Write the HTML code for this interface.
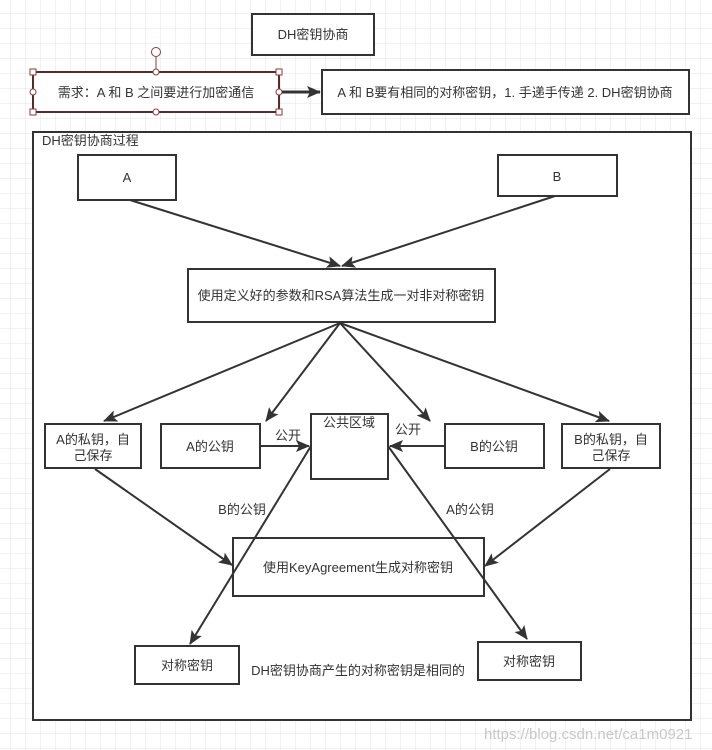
<!DOCTYPE html>
<html><head><meta charset="utf-8"><style>
html,body{margin:0;padding:0;background:#fff;}
svg{display:block;}
text{font-family:"Liberation Sans","Noto Sans CJK SC",sans-serif;font-size:13px;fill:#333;}
</style></head><body>
<svg width="712" height="750" viewBox="0 0 712 750" xmlns="http://www.w3.org/2000/svg">
<defs>
<pattern id="g" x="10" y="13" width="15" height="15" patternUnits="userSpaceOnUse">
<path d="M0 0H15M0 0V15" stroke="#e3e3e3" stroke-width="1" fill="none"/>
</pattern>
<marker id="ar" markerWidth="14" markerHeight="12" refX="13" refY="6" orient="auto" markerUnits="userSpaceOnUse">
<path d="M0,0 L14,6 L0,12 L3,6 Z" fill="#333"/>
</marker>
</defs>
<rect width="712" height="750" fill="url(#g)"/>
<g fill="#fff" stroke="#333" stroke-width="2">
<rect x="252" y="14" width="122" height="41"/>
<rect x="33" y="72" width="246" height="40" stroke="#5a2a2a"/>
<rect x="322" y="70" width="367" height="44"/>
<rect x="33" y="132" width="658" height="588"/>
<rect x="78" y="155" width="98" height="45"/>
<rect x="498" y="155" width="119" height="41"/>
<rect x="188" y="269" width="307" height="53"/>
<rect x="45" y="424" width="96" height="44"/>
<rect x="161" y="424" width="99" height="44"/>
<rect x="311" y="414" width="77" height="65"/>
<rect x="445" y="424" width="99" height="44"/>
<rect x="562" y="424" width="98" height="44"/>
<rect x="233" y="538" width="251" height="58"/>
<rect x="135" y="646" width="104" height="38"/>
<rect x="478" y="642" width="103" height="38"/>
</g>
<g fill="#fff" stroke="#8b3a3a" stroke-width="1">
<line x1="156" y1="57" x2="156" y2="72"/>
<circle cx="156" cy="52" r="4.5"/>
<rect x="30" y="69" width="6" height="6"/><rect x="276" y="69" width="6" height="6"/>
<rect x="30" y="109" width="6" height="6"/><rect x="276" y="109" width="6" height="6"/>
<circle cx="156" cy="72" r="3"/><circle cx="156" cy="112" r="3"/>
<circle cx="33" cy="92" r="3"/><circle cx="279" cy="92" r="3"/>
</g>
<g stroke="#333" stroke-width="2" fill="none" marker-end="url(#ar)">
<line x1="282" y1="92" x2="320" y2="92" stroke-width="3"/>
<line x1="130" y1="200" x2="340" y2="266"/>
<line x1="555" y1="196" x2="342" y2="266"/>
<line x1="340" y1="323" x2="104" y2="421"/>
<line x1="340" y1="323" x2="266" y2="421"/>
<line x1="340" y1="323" x2="430" y2="421"/>
<line x1="340" y1="323" x2="609" y2="421"/>
<line x1="260" y1="446" x2="309" y2="446"/>
<line x1="445" y1="446" x2="390" y2="446"/>
<line x1="311" y1="446" x2="190" y2="644"/>
<line x1="388" y1="446" x2="527" y2="639"/>
<line x1="95" y1="469" x2="232" y2="565"/>
<line x1="610" y1="469" x2="485" y2="566"/>
</g>
<g text-anchor="middle">
<text x="313" y="39">DH密钥协商</text>
<text x="156" y="97">需求：A 和 B 之间要进行加密通信</text>
<text x="505" y="97">A 和 B要有相同的对称密钥，1. 手递手传递 2. DH密钥协商</text>
<text x="127" y="182">A</text>
<text x="557" y="181">B</text>
<text x="341" y="300">使用定义好的参数和RSA算法生成一对非对称密钥</text>
<text x="93" y="444">A的私钥，自</text>
<text x="93" y="460">己保存</text>
<text x="210" y="451">A的公钥</text>
<text x="349" y="427">公共区域</text>
<text x="494" y="451">B的公钥</text>
<text x="611" y="444">B的私钥，自</text>
<text x="611" y="460">己保存</text>
<text x="288" y="440">公开</text>
<text x="408" y="434">公开</text>
<text x="242" y="514">B的公钥</text>
<text x="470" y="514">A的公钥</text>
<text x="358" y="572">使用KeyAgreement生成对称密钥</text>
<text x="187" y="670">对称密钥</text>
<text x="529" y="666">对称密钥</text>
<text x="358" y="675">DH密钥协商产生的对称密钥是相同的</text>
</g>
<text x="42" y="145">DH密钥协商过程</text>
<text x="484" y="739" style="fill:#c8c8c8;font-size:15px">https://blog.csdn.net/ca1m0921</text>
</svg>
</body></html>
